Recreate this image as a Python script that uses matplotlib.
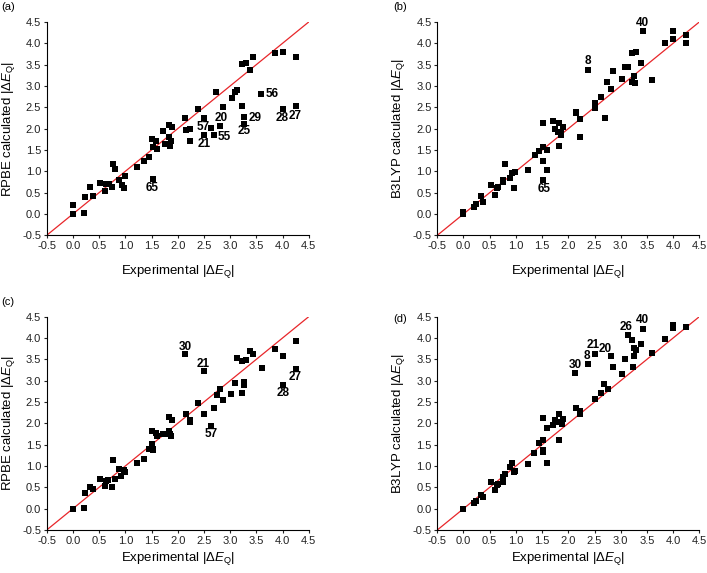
import matplotlib
matplotlib.use("Agg")
import matplotlib.pyplot as plt
import numpy as np

plt.rcParams['font.family'] = ['Liberation Sans', 'DejaVu Sans']
plt.rcParams['mathtext.fontset'] = 'custom'
plt.rcParams['mathtext.rm'] = 'Liberation Sans'
plt.rcParams['mathtext.it'] = 'Liberation Sans:italic'

# ---- data (a) RPBE ----
xa = [0.0, 0.0, 0.21, 0.24, 0.33, 0.38, 0.52, 0.61, 0.64, 0.68, 0.75, 0.77, 0.80, 0.88, 0.93, 0.98, 0.99,
      1.23, 1.36, 1.45, 1.51, 1.52, 1.52, 1.59, 1.60, 1.71, 1.75, 1.81, 1.83, 1.83, 1.86, 1.88, 1.89,
      2.14, 2.15, 2.24, 2.24, 2.38, 2.51, 2.51, 2.64, 2.70, 2.74, 2.81, 2.86, 3.03, 3.09, 3.14, 3.23,
      3.30, 3.23, 3.27, 3.27, 3.38, 3.43, 3.59, 3.86, 4.00, 4.00, 4.25, 4.25]
ya = [0.20, 0.0, 0.02, 0.40, 0.64, 0.43, 0.73, 0.54, 0.71, 0.71, 0.63, 1.17, 1.05, 0.79, 0.68, 0.62, 0.90,
      1.10, 1.23, 1.34, 1.75, 1.56, 0.82, 1.71, 1.53, 1.95, 1.65, 1.65, 2.09, 1.80, 1.59, 1.70, 2.03,
      2.26, 1.97, 1.99, 1.70, 2.46, 2.26, 1.85, 2.02, 1.84, 2.86, 2.07, 2.50, 2.73, 2.85, 2.91, 3.51,
      3.55, 2.54, 2.27, 2.11, 3.37, 3.69, 2.82, 3.77, 3.80, 2.46, 3.67, 2.52]
lab_a = ['65', '57', '21', '55', '20', '29', '25', '56', '28', '27']
lab_a_x = [1.52, 2.49, 2.50, 2.89, 2.83, 3.47, 3.27, 3.81, 4.00, 4.25]
lab_a_y = [0.60, 2.03, 1.64, 1.81, 2.24, 2.26, 1.95, 2.82, 2.26, 2.30]

# ---- data (b) B3LYP ----
xb = [0.0, 0.0, 0.20, 0.23, 0.33, 0.38, 0.52, 0.61, 0.64, 0.66, 0.75, 0.76, 0.80, 0.88, 0.92, 0.98, 0.97,
      1.23, 1.36, 1.45, 1.51, 1.51, 1.51, 1.52, 1.59, 1.59, 1.71, 1.75, 1.81, 1.83, 1.83, 1.86, 1.87, 1.90,
      2.14, 2.14, 2.23, 2.23, 2.38, 2.51, 2.51, 2.63, 2.70, 2.74, 2.82, 2.85, 3.03, 3.08, 3.14, 3.22,
      3.29, 3.22, 3.26, 3.27, 3.38, 3.43, 3.59, 3.85, 4.00, 4.00, 4.24, 4.24]
yb = [0.0, 0.04, 0.16, 0.23, 0.41, 0.27, 0.67, 0.45, 0.62, 0.63, 0.74, 0.80, 1.17, 0.84, 0.95, 0.98, 0.61,
      1.04, 1.38, 1.48, 2.14, 1.58, 1.23, 0.80, 1.50, 1.04, 2.17, 1.99, 1.92, 2.13, 1.60, 1.92, 1.85, 2.05,
      2.40, 2.36, 2.23, 1.81, 3.38, 2.61, 2.49, 2.74, 2.24, 3.09, 2.94, 3.36, 3.16, 3.45, 3.45, 3.78,
      3.79, 3.10, 3.23, 3.08, 3.53, 4.30, 3.13, 4.01, 4.30, 4.09, 4.20, 4.00]
lab_b = ['8', '40', '65']
lab_b_x = [2.38, 3.42, 1.53]
lab_b_y = [3.59, 4.48, 0.59]

# ---- data (c) RPBE ----
xc = [0.0, 0.21, 0.24, 0.33, 0.38, 0.52, 0.61, 0.64, 0.67, 0.75, 0.77, 0.80, 0.88, 0.92, 0.98, 0.99,
      1.23, 1.35, 1.45, 1.50, 1.51, 1.52, 1.52, 1.59, 1.60, 1.71, 1.75, 1.81, 1.83, 1.83, 1.85, 1.87, 1.89,
      2.14, 2.15, 2.23, 2.23, 2.38, 2.50, 2.51, 2.64, 2.70, 2.75, 2.81, 2.86, 3.02, 3.09, 3.14, 3.23,
      3.30, 3.23, 3.27, 3.27, 3.38, 3.43, 3.60, 3.86, 4.00, 4.00, 4.25, 4.25]
yc = [0.0, 0.02, 0.36, 0.51, 0.46, 0.70, 0.54, 0.66, 0.68, 0.51, 1.15, 0.70, 0.93, 0.77, 0.90, 0.86,
      1.08, 1.16, 1.41, 1.82, 1.51, 1.41, 1.37, 1.78, 1.70, 1.76, 1.76, 1.76, 2.16, 1.81, 1.74, 1.70, 2.08,
      3.62, 2.21, 2.09, 2.02, 2.47, 3.22, 2.23, 1.94, 2.35, 2.66, 2.80, 2.54, 2.69, 2.94, 3.54, 3.45,
      3.48, 2.72, 2.96, 2.90, 3.69, 3.63, 3.30, 3.75, 3.57, 2.90, 3.93, 3.27]
lab_c = ['30', '21', '57', '28', '27']
lab_c_x = [2.14, 2.49, 2.64, 4.02, 4.25]
lab_c_y = [3.80, 3.39, 1.76, 2.70, 3.09]

# ---- data (d) B3LYP ----
xd = [0.0, 0.20, 0.23, 0.33, 0.38, 0.52, 0.61, 0.64, 0.66, 0.75, 0.76, 0.80, 0.88, 0.92, 0.97, 0.99,
      1.23, 1.35, 1.45, 1.51, 1.52, 1.51, 1.52, 1.59, 1.59, 1.71, 1.75, 1.81, 1.83, 1.83, 1.86, 1.88, 1.90,
      2.13, 2.14, 2.23, 2.23, 2.38, 2.51, 2.51, 2.63, 2.69, 2.75, 2.82, 2.85, 3.03, 3.08, 3.14, 3.22,
      3.23, 3.26, 3.26, 3.30, 3.38, 3.43, 3.59, 3.85, 4.00, 4.00, 4.24]
yd = [0.0, 0.13, 0.17, 0.32, 0.28, 0.63, 0.43, 0.56, 0.59, 0.62, 0.75, 0.82, 0.98, 1.07, 0.85, 0.88,
      1.05, 1.31, 1.55, 2.12, 1.60, 1.34, 1.38, 1.90, 1.07, 1.95, 2.08, 2.02, 2.21, 1.61, 2.02, 1.98, 2.10,
      3.19, 2.37, 2.30, 2.23, 3.40, 3.62, 2.57, 2.72, 2.92, 2.80, 3.58, 3.32, 3.16, 3.52, 4.07, 3.95,
      3.32, 3.58, 3.76, 3.72, 3.87, 4.22, 3.66, 3.98, 4.30, 4.23, 4.27]
lab_d = ['30', '8', '21', '20', '26', '40']
lab_d_x = [2.13, 2.35, 2.48, 2.70, 3.11, 3.42]
lab_d_y = [3.37, 3.57, 3.83, 3.75, 4.25, 4.43]

ticks = [-0.5, 0.0, 0.5, 1.0, 1.5, 2.0, 2.5, 3.0, 3.5, 4.0, 4.5]
tick_labels = ['-0.5', '0.0', '0.5', '1.0', '1.5', '2.0', '2.5', '3.0', '3.5', '4.0', '4.5']

W, H = 707, 573
fig = plt.figure(figsize=(W / 100, H / 100), dpi=100)

panels = [
    ('(a)', xa, ya, lab_a, lab_a_x, lab_a_y, 'RPBE', (46.7, 235.3), (8, 7), 9),
    ('(b)', xb, yb, lab_b, lab_b_x, lab_b_y, 'B3LYP', (437.3, 235.3), (400, 7), 9),
    ('(c)', xc, yc, lab_c, lab_c_x, lab_c_y, 'RPBE', (46.7, 530.0), (8, 302), 3),
    ('(d)', xd, yd, lab_d, lab_d_x, lab_d_y, 'B3LYP', (437.3, 530.0), (400, 319), 3),
]

for tag, x, y, labs, lx, ly, method, (px, py), (tx, ty), xpad in panels:
    ax = fig.add_axes([px / W, 1 - py / H, 262 / W, 213.3 / H])
    ax.plot([-0.5, 4.5], [-0.5, 4.5], color='#e8262a', lw=0.9, zorder=1)
    ax.scatter(x, y, marker='s', s=13, color='black', linewidths=0, zorder=2)
    for t, xx, yy in zip(labs, lx, ly):
        ax.text(xx, yy, t, fontsize=8.5, fontweight='bold', ha='center', va='center')
    ax.set_xlim(-0.5, 4.5)
    ax.set_ylim(-0.5, 4.5)
    ax.set_xticks(ticks)
    ax.set_xticklabels(tick_labels)
    ax.set_yticks(ticks)
    ax.set_yticklabels(tick_labels)
    ax.tick_params(direction='out', length=2.5, width=0.8, labelsize=8, pad=1.5, colors='#222222')
    for s in ['top', 'right']:
        ax.spines[s].set_visible(False)
    for s in ['left', 'bottom']:
        ax.spines[s].set_linewidth(0.8)
    ax.set_xlabel(r'Experimental $|\Delta \mathit{E}_{\mathrm{Q}}|$', fontsize=9.5, labelpad=xpad)
    ax.set_ylabel(method + r' calculated $|\Delta \mathit{E}_{\mathrm{Q}}|$', fontsize=9.5, labelpad=4)
    fig.text(tx / W, 1 - ty / H, tag, fontsize=8, ha='center', va='center')

fig.savefig('out.png', dpi=100)
